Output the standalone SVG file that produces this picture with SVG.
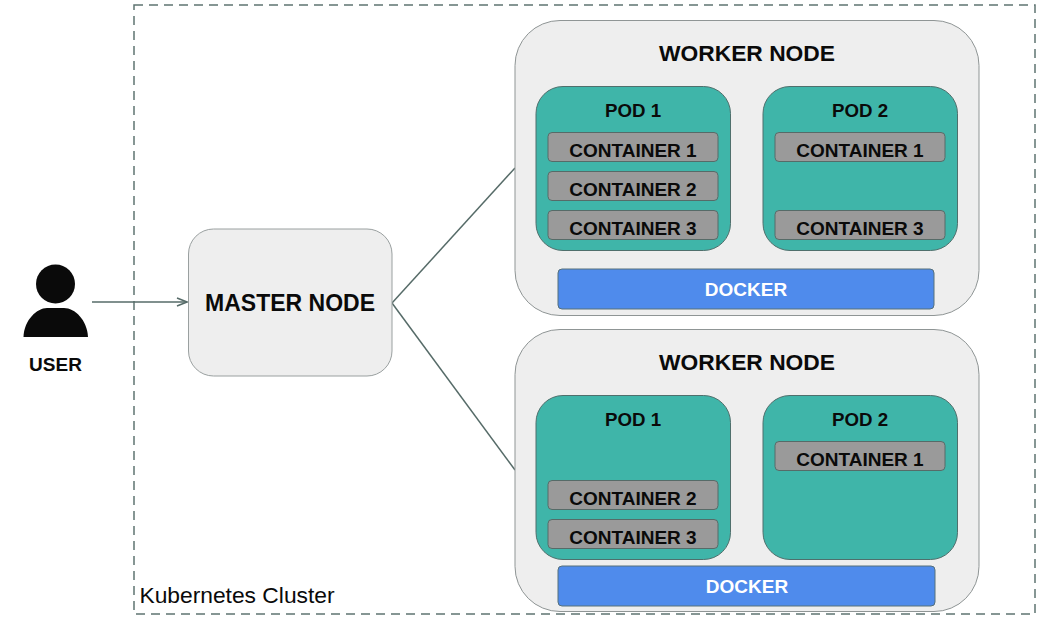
<svg xmlns="http://www.w3.org/2000/svg" width="1052" height="619" viewBox="0 0 1052 619">
<style>
text{font-family:"Liberation Sans",Arial,sans-serif;font-weight:700;fill:#0a0a0a;text-anchor:middle}
.worker{fill:#eeeeee;stroke:#8f9595;stroke-width:1}
.pod{fill:#3fb5a9;stroke:#4f6f6c;stroke-width:1}
.ctr{fill:#9a9a9a;stroke:#566b68;stroke-width:1}
.dock{fill:#4f8bec;stroke:#56707a;stroke-width:1}
.ct{font-size:19px}
.pt{font-size:18.700px}
.wt{font-size:22.800px}
.conn{fill:none;stroke:#566b68;stroke-width:1.500}
</style>
<defs>
<marker id="arr" viewBox="0 0 12 10" refX="11" refY="5" markerWidth="12" markerHeight="10" markerUnits="userSpaceOnUse" orient="auto"><path d="M1 1 L11 5 L1 9" fill="none" stroke="#566b68" stroke-width="1.500"/></marker>
</defs>
<rect id="cluster" x="134" y="5" width="901" height="609" fill="none" stroke="#5f7472" stroke-width="1.500" stroke-dasharray="9 6"/>
<text x="237" y="603" style="font-weight:400;font-size:22.800px">Kubernetes Cluster</text>
<g id="connectors">
<path class="conn" d="M92 302 H187" marker-end="url(#arr)"/>
<path class="conn" d="M392 303 L515 168"/>
<path class="conn" d="M392 303 L515 470"/>
</g>
<g id="user">
<circle cx="55.500" cy="284" r="19.500" fill="#0a0a0a"/>
<path d="M23.500 337 C24 320 37 308 47 308 H64 C75 308 87 320 88 337 Z" fill="#0a0a0a"/>
<text x="55.500" y="371" style="font-size:19px">USER</text>
</g>
<g id="master">
<rect x="188.500" y="229" width="203.500" height="147" rx="25" fill="#eeeeee" stroke="#9aa0a0"/>
<text x="290" y="311" style="font-size:23px">MASTER NODE</text>
</g>
<g id="worker1">
<rect class="worker" x="515" y="20.500" width="464" height="295" rx="45"/>
<text class="wt" x="747" y="61">WORKER NODE</text>
<g id="w1pod1">
<rect class="pod" x="536" y="86.500" width="194.500" height="164" rx="27"/>
<text class="pt" x="633" y="117">POD 1</text>
<rect class="ctr" x="548" y="132.500" width="170" height="29" rx="4"/><text class="ct" x="633" y="156.500">CONTAINER 1</text>
<rect class="ctr" x="548" y="171.500" width="170" height="29" rx="4"/><text class="ct" x="633" y="195.500">CONTAINER 2</text>
<rect class="ctr" x="548" y="210.500" width="170" height="29" rx="4"/><text class="ct" x="633" y="234.500">CONTAINER 3</text>
</g>
<g id="w1pod2">
<rect class="pod" x="763" y="86.500" width="194.500" height="164" rx="27"/>
<text class="pt" x="860" y="117">POD 2</text>
<rect class="ctr" x="775" y="132.500" width="170" height="29" rx="4"/><text class="ct" x="860" y="156.500">CONTAINER 1</text>
<rect class="ctr" x="775" y="210.500" width="170" height="29" rx="4"/><text class="ct" x="860" y="234.500">CONTAINER 3</text>
</g>
<g id="w1docker">
<rect class="dock" x="558" y="269" width="376" height="40" rx="4"/>
<text x="746" y="296" style="font-size:19px;fill:#fff">DOCKER</text>
</g>
</g>
<g id="worker2">
<rect class="worker" x="515" y="329.500" width="464" height="282" rx="45"/>
<text class="wt" x="747" y="370">WORKER NODE</text>
<g id="w2pod1">
<rect class="pod" x="536" y="395.500" width="194.500" height="164" rx="27"/>
<text class="pt" x="633" y="426">POD 1</text>
<rect class="ctr" x="548" y="480.500" width="170" height="29" rx="4"/><text class="ct" x="633" y="504.500">CONTAINER 2</text>
<rect class="ctr" x="548" y="519.500" width="170" height="29" rx="4"/><text class="ct" x="633" y="543.500">CONTAINER 3</text>
</g>
<g id="w2pod2">
<rect class="pod" x="763" y="395.500" width="194.500" height="164" rx="27"/>
<text class="pt" x="860" y="426">POD 2</text>
<rect class="ctr" x="775" y="441.500" width="170" height="29" rx="4"/><text class="ct" x="860" y="465.500">CONTAINER 1</text>
</g>
<g id="w2docker">
<rect class="dock" x="558" y="566" width="377" height="40" rx="4"/>
<text x="747" y="593" style="font-size:19px;fill:#fff">DOCKER</text>
</g>
</g>
</svg>
